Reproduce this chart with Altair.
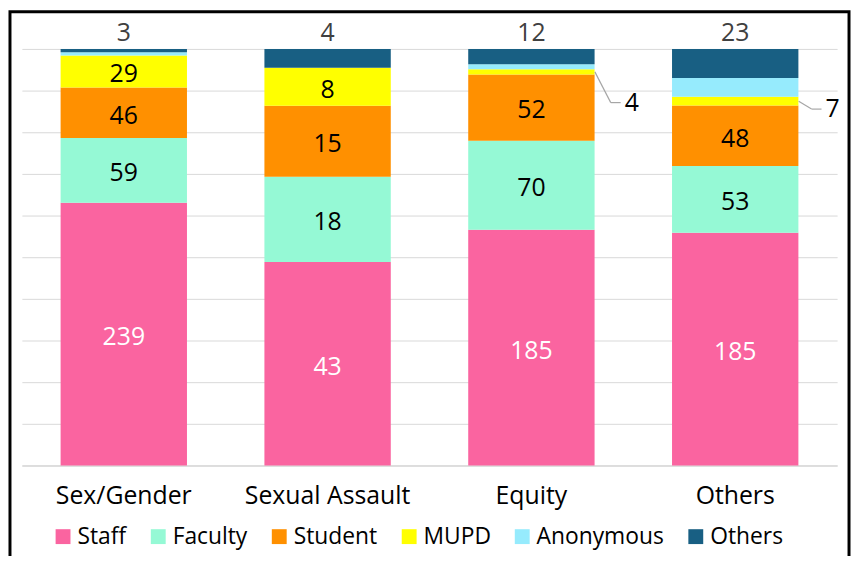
import altair as alt
import pandas as pd

categories = ["Sex/Gender", "Sexual Assault", "Equity", "Others"]
series = ["Staff", "Faculty", "Student", "MUPD", "Anonymous", "Others"]
colors = ["#FA64A0", "#95F9D5", "#FF9000", "#FFFF00", "#96EBFD", "#185F83"]

staff = [239, 43, 185, 185]
faculty = [59, 18, 70, 53]
student = [46, 15, 52, 48]
mupd = [29, 8, 4, 7]
anonymous = [3, 0, 4, 15]
others = [3, 4, 12, 23]

values = {"Staff": staff, "Faculty": faculty, "Student": student,
          "MUPD": mupd, "Anonymous": anonymous, "Others": others}

# leader-line labels (category -> (pixel drop, diagonal dx))
leaders = {"Equity": (31, 16), "Others": (8, 13)}

rows = []
for i, cat in enumerate(categories):
    total = sum(values[s][i] for s in series)
    cum = 0
    for s in series:
        v = values[s][i]
        y0 = cum / total
        cum += v
        y1 = cum / total
        rows.append({"cat": cat, "series": s, "value": v, "y0": y0, "y1": y1,
                     "mid": (y0 + y1) / 2})
df = pd.DataFrame(rows)

FONT = "Open Sans"
W, H = 822, 420
PL, PT, PR, PB = 14, 39, 14, 89
LBL = 25

x_enc = alt.X("cat:N", sort=categories, title=None,
              scale=alt.Scale(paddingInner=0.38, paddingOuter=0.19),
              axis=alt.Axis(labelFont=FONT, labelFontSize=25, labelColor="#000000",
                            labelPadding=18, ticks=False, domainColor="#d9d9d9",
                            domainWidth=1.5, labelAngle=0))

bars = alt.Chart(df).mark_bar().encode(
    x=x_enc,
    y=alt.Y("y0:Q", title=None, scale=alt.Scale(domain=[0, 1], nice=False),
            axis=alt.Axis(labels=False, ticks=False, domain=False, gridColor="#d9d9d9",
                          gridWidth=1, values=[i / 10 for i in range(11)])),
    y2="y1:Q",
    color=alt.Color("series:N", sort=series,
                    scale=alt.Scale(domain=series, range=colors),
                    legend=alt.Legend(title=None, orient="none", direction="horizontal",
                                      legendX=30, legendY=480, symbolType="square",
                                      symbolSize=225, symbolStrokeWidth=0,
                                      labelFont=FONT, labelFontSize=23,
                                      labelColor="#000000", labelOffset=3,
                                      columnPadding=20, padding=0)),
)

base = alt.Chart(df)

inside_black = base.transform_filter(
    "(datum.series == 'Faculty' || datum.series == 'Student' || "
    "(datum.series == 'MUPD' && datum.cat != 'Equity' && datum.cat != 'Others')) && datum.value > 0"
).mark_text(font=FONT, fontSize=LBL, color="#000000", baseline="middle", dy=3).encode(
    x=alt.X("cat:N", sort=categories), y="mid:Q", text="value:Q")

inside_white = base.transform_filter("datum.series == 'Staff'").mark_text(
    font=FONT, fontSize=LBL, color="#ffffff", baseline="middle", dy=3).encode(
    x=alt.X("cat:N", sort=categories), y="mid:Q", text="value:Q")

top = base.transform_filter("datum.series == 'Others'").mark_text(
    font=FONT, fontSize=LBL, color="#404040", baseline="middle", dy=-16).encode(
    x=alt.X("cat:N", sort=categories), y="y1:Q", text="value:Q")

layers = [bars, inside_black, inside_white, top]

half = 64
for cat, (drop, ddx) in leaders.items():
    sub = base.transform_filter(f"datum.cat == '{cat}' && datum.series == 'MUPD'")
    diag = sub.mark_rule(color="#a6a6a6", strokeWidth=1.2, xOffset=half,
                         x2Offset=half + ddx, y2Offset=drop).encode(
        x=alt.X("cat:N", sort=categories), x2="cat:N", y="mid:Q", y2="mid:Q")
    horiz = sub.mark_rule(color="#a6a6a6", strokeWidth=1.2, xOffset=half + ddx,
                          x2Offset=half + ddx + 10, yOffset=drop, y2Offset=drop).encode(
        x=alt.X("cat:N", sort=categories), x2="cat:N", y="mid:Q", y2="mid:Q")
    lab = sub.mark_text(font=FONT, fontSize=LBL, color="#000000", align="left",
                        baseline="middle", dx=half + ddx + 14, dy=drop).encode(
        x=alt.X("cat:N", sort=categories), y="mid:Q", text="value:Q")
    layers += [diag, horiz, lab]

frame = alt.Chart(pd.DataFrame({"a": [0]})).mark_rect(
    fill="transparent", stroke="#000000", strokeWidth=3).encode(
    x=alt.value(10 - 8 - PL), x2=alt.value(856 - 8 - PL), y=alt.value(-37.5),
    y2=alt.value(620))
layers.append(frame)

chart = alt.layer(*layers).properties(
    width=W, height=H,
    autosize=alt.AutoSizeParams(type="none"),
    padding={"left": PL, "top": PT, "right": PR, "bottom": PB},
    background="#ffffff",
).configure_view(stroke=None)

chart.save("out.html", embed_options={"renderer": "svg", "actions": False})
